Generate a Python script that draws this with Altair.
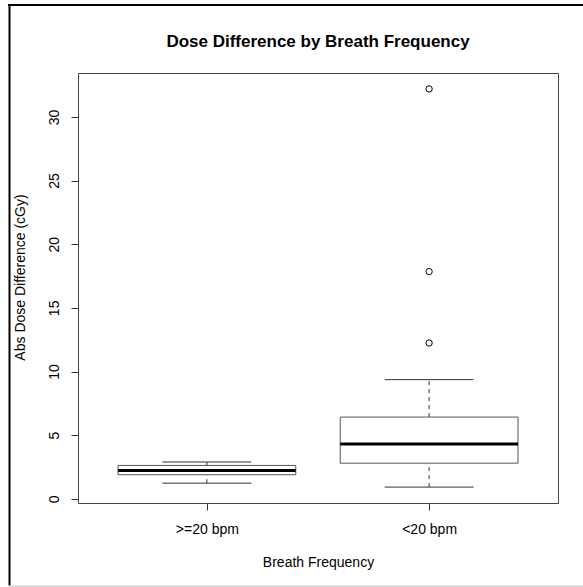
import altair as alt
import pandas as pd

# Summary statistics per breath-frequency group (cGy)
groups = [">=20 bpm", "<20 bpm"]
positions = [1, 2]
lower_whisker = [1.23, 0.92]
q1 = [1.89, 2.80]
median = [2.23, 4.30]
q3 = [2.62, 6.42]
upper_whisker = [2.89, 9.36]

# Points beyond the whiskers
outlier_group = ["<20 bpm", "<20 bpm", "<20 bpm"]
outlier_value = [12.24, 17.85, 32.2]

y_ticks = [0, 5, 10, 15, 20, 25, 30]

TITLE = "Dose Difference by Breath Frequency"

BOX_HALF = 0.4     # half of the box width, in group units
CAP_HALF = 0.2     # half of the whisker staple width

box = pd.DataFrame({
    "group": groups,
    "pos": positions,
    "lo": lower_whisker,
    "q1": q1,
    "med": median,
    "q3": q3,
    "hi": upper_whisker,
})
box["left"] = box["pos"] - BOX_HALF
box["right"] = box["pos"] + BOX_HALF
box["cap_left"] = box["pos"] - CAP_HALF
box["cap_right"] = box["pos"] + CAP_HALF

out = pd.DataFrame({"group": outlier_group, "value": outlier_value})
out["pos"] = out["group"].map(dict(zip(groups, positions)))

x_scale = alt.Scale(domain=[0.42, 2.58], nice=False, zero=False)
y_scale = alt.Scale(domain=[-0.33, 33.45], nice=False, zero=False)

label_expr = " : ".join(
    f"datum.value == {p} ? '{g}'" for p, g in zip(positions, groups)
) + " : ''"

FONT = "Liberation Sans"
AXIS_FS = 14

x_axis = alt.Axis(
    values=positions, labelExpr=label_expr, grid=False, domain=False,
    tickSize=7, tickColor="#333", labelFontSize=AXIS_FS, labelPadding=12,
    labelColor="black", title="Breath Frequency", titleFontSize=AXIS_FS,
    titleFontWeight="normal", titleColor="black", titleY=59,
    titleBaseline="middle",
)
y_axis = alt.Axis(
    values=y_ticks, grid=False, domain=False, tickSize=7, tickColor="#333",
    labelAngle=270, labelFontSize=AXIS_FS, labelPadding=10, labelColor="black",
    labelAlign="center", labelBaseline="bottom",
    title="Abs Dose Difference (cGy)", titleFontSize=AXIS_FS,
    titleFontWeight="normal", titleColor="black", titleX=-58, titleY=204,
    titleAngle=270, titleAlign="center", titleBaseline="middle",
)

base = alt.Chart(box)

rect = base.mark_rect(fill="white", stroke="#555", strokeWidth=1).encode(
    x=alt.X("left:Q", scale=x_scale, axis=x_axis),
    x2="right:Q",
    y=alt.Y("q1:Q", scale=y_scale, axis=y_axis),
    y2="q3:Q",
)

med = base.mark_rule(color="black", strokeWidth=3).encode(
    x=alt.X("left:Q", scale=x_scale),
    x2="right:Q",
    y=alt.Y("med:Q", scale=y_scale),
)

whisk_up = base.mark_rule(color="#333", strokeWidth=1, strokeDash=[4, 4]).encode(
    x=alt.X("pos:Q", scale=x_scale),
    y=alt.Y("q3:Q", scale=y_scale),
    y2="hi:Q",
)
whisk_down = base.mark_rule(color="#333", strokeWidth=1, strokeDash=[4, 4]).encode(
    x=alt.X("pos:Q", scale=x_scale),
    y=alt.Y("lo:Q", scale=y_scale),
    y2="q1:Q",
)

cap_up = base.mark_rule(color="#333", strokeWidth=1).encode(
    x=alt.X("cap_left:Q", scale=x_scale),
    x2="cap_right:Q",
    y=alt.Y("hi:Q", scale=y_scale),
)
cap_down = base.mark_rule(color="#333", strokeWidth=1).encode(
    x=alt.X("cap_left:Q", scale=x_scale),
    x2="cap_right:Q",
    y=alt.Y("lo:Q", scale=y_scale),
)

points = alt.Chart(out).mark_point(
    shape="circle", filled=False, color="black", size=40, strokeWidth=1, opacity=1
).encode(
    x=alt.X("pos:Q", scale=x_scale),
    y=alt.Y("value:Q", scale=y_scale),
)

one = pd.DataFrame({"k": [0]})

# Main title above the plot region
title = alt.Chart(one).mark_text(
    text=TITLE, font=FONT, fontSize=17, fontWeight="bold", color="black",
    align="center", baseline="middle",
).encode(x=alt.value(240), y=alt.value(-31))

# Page frame: dark left/top edges, light bottom edge
frame_left = alt.Chart(one).mark_rule(color="black", strokeWidth=2).encode(
    x=alt.value(-68.5), y=alt.value(-69), y2=alt.value(513)
)
frame_top = alt.Chart(one).mark_rule(color="black", strokeWidth=2).encode(
    x=alt.value(-70), x2=alt.value(505), y=alt.value(-68)
)
frame_bottom = alt.Chart(one).mark_rule(color="#d4d4d4", strokeWidth=1.5).encode(
    x=alt.value(-70), x2=alt.value(505), y=alt.value(513)
)

chart = alt.layer(
    frame_left, frame_top, frame_bottom, title,
    rect, whisk_up, whisk_down, cap_up, cap_down, med, points,
).properties(
    width=480,
    height=430,
    autosize=alt.AutoSizeParams(type="none"),
    padding={"left": 78, "top": 73, "right": 25, "bottom": 84},
    background="white",
).configure_view(
    stroke="#444", strokeWidth=1
).configure_axis(
    labelFont=FONT, titleFont=FONT
)

chart.save("out.html", embed_options={"renderer": "svg", "actions": False})
